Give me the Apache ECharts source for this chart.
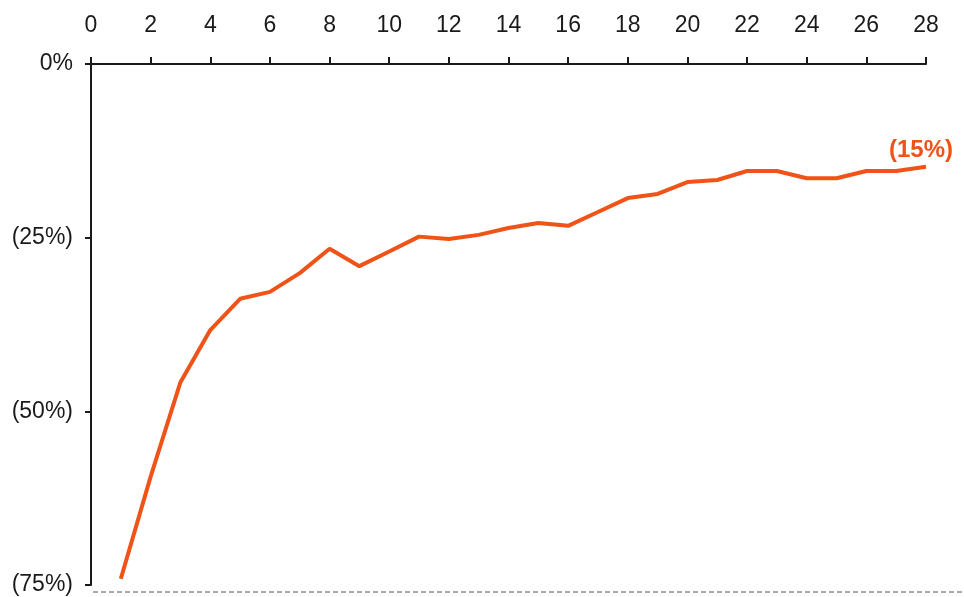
<!DOCTYPE html>
<html>
<head>
<meta charset="utf-8">
<script src="https://cdn.jsdelivr.net/npm/echarts@6/dist/echarts.min.js"></script>
<style>
  html, body { margin: 0; padding: 0; background: #fff; }
  #chart { width: 964px; height: 597px; }
</style>
</head>
<body>
<div id="chart"></div>
<script>
// periods 1..28 and the value at each (percent, negative)
var periods = [1, 2, 3, 4, 5, 6, 7, 8, 9, 10, 11, 12, 13, 14, 15, 16, 17, 18, 19, 20, 21, 22, 23, 24, 25, 26, 27, 28];
var values = [-74.1, -59.4, -45.8, -38.3, -33.8, -32.8, -30.1, -26.6, -29.1, -27.0,
  -24.85, -25.2, -24.6, -23.6, -22.9, -23.3, -21.3, -19.3, -18.7, -17.0,
  -16.7, -15.4, -15.4, -16.45, -16.45, -15.4, -15.4, -14.8];
var lastLabel = '(15%)';
var yTicks = [0, -25, -50, -75];

var orange = '#EF5317';
var ink = '#1a1a1a';
var font = 'Liberation Sans, Arial, sans-serif';

var chart = echarts.init(document.getElementById('chart'));

var seriesData = periods.map(function (p, i) {
  var item = { value: [p, values[i]] };
  if (i === periods.length - 1) {
    item.label = {
      show: true,
      position: 'top',
      distance: 4,
      offset: [-5, 0],
      formatter: lastLabel,
      color: orange,
      fontSize: 24,
      fontWeight: 'bold',
      fontFamily: font
    };
  }
  return item;
});

chart.setOption({
  animation: false,
  grid: { left: 91, top: 64, right: 38, bottom: 12 },
  xAxis: {
    type: 'value',
    position: 'top',
    min: 0,
    max: 28,
    interval: 2,
    axisLine: { show: true, onZero: false, lineStyle: { color: ink, width: 2 } },
    axisTick: { show: true, length: 7, lineStyle: { color: ink, width: 2 } },
    axisLabel: { color: ink, fontSize: 23, margin: 27, fontFamily: font },
    splitLine: { show: false }
  },
  yAxis: {
    type: 'value',
    min: yTicks[yTicks.length - 1],
    max: yTicks[0],
    interval: 25,
    axisLine: { show: true, onZero: false, lineStyle: { color: ink, width: 2 } },
    axisTick: { show: true, length: 6, lineStyle: { color: ink, width: 2 } },
    axisLabel: {
      color: ink,
      fontSize: 23,
      margin: 18,
      fontFamily: font,
      formatter: function (v) {
        return v === 0 ? '0%' : '(' + Math.abs(v) + '%)';
      }
    },
    splitLine: { show: false }
  },
  series: [{
    type: 'line',
    data: seriesData,
    showSymbol: true,
    symbol: 'circle',
    symbolSize: 0,
    lineStyle: { color: orange, width: 4 },
    itemStyle: { color: orange },
    clip: false
  }],
  graphic: [{
    type: 'line',
    shape: { x1: 93, y1: 592, x2: 964, y2: 592 },
    style: { stroke: '#555', lineWidth: 1, lineDash: [5, 3] }
  }]
});

window.addEventListener('resize', function () {
  chart.resize();
});
</script>
</body>
</html>
